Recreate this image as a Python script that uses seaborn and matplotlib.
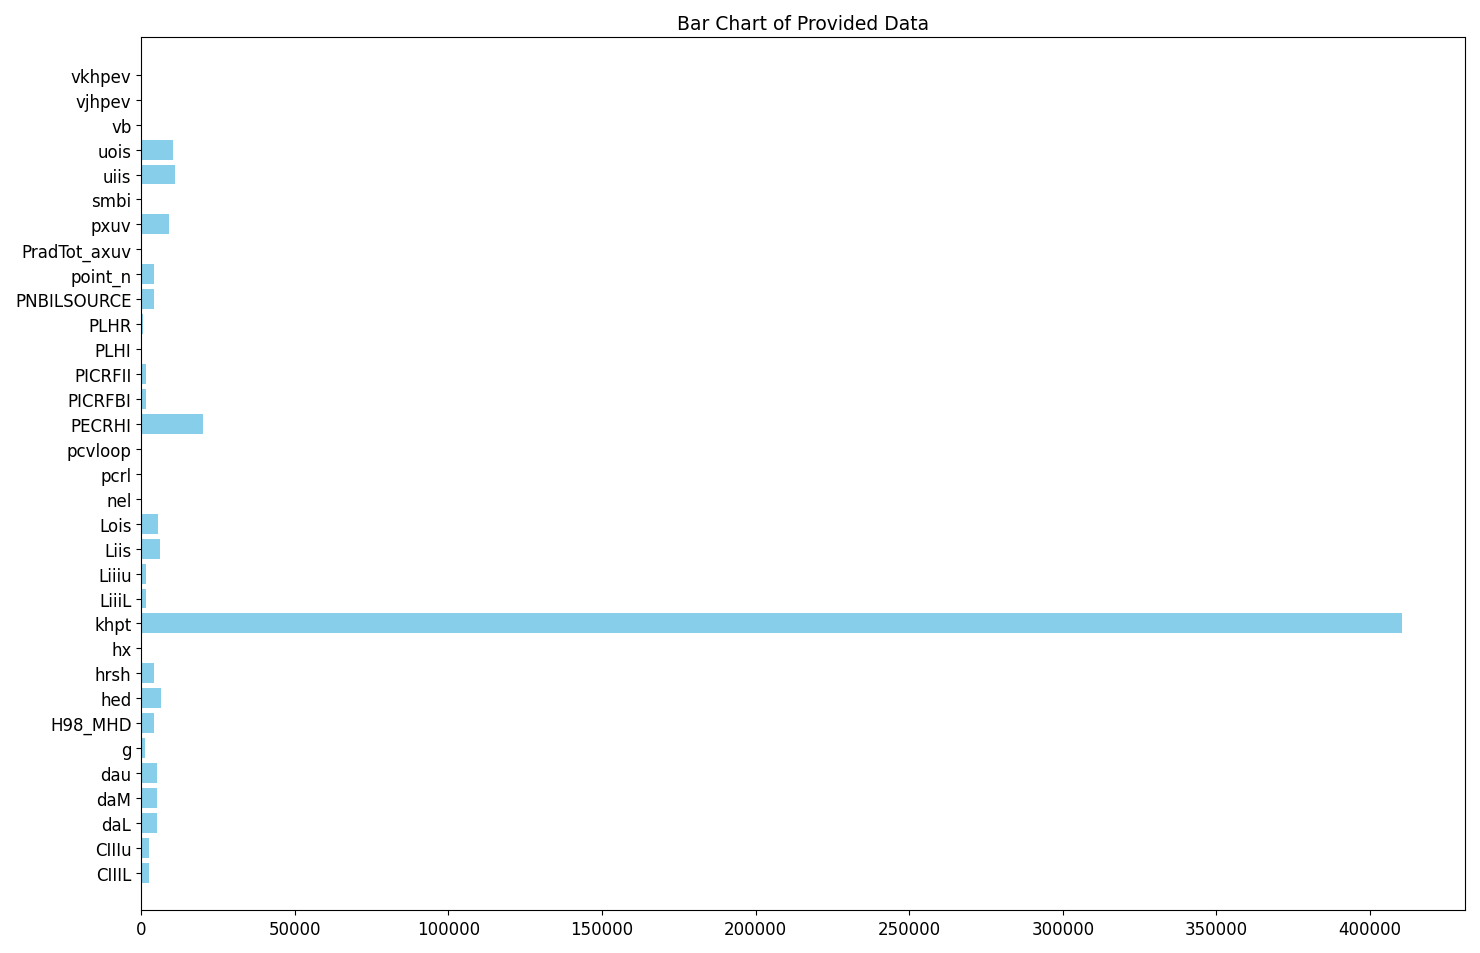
import matplotlib
matplotlib.use("Agg")
import matplotlib.pyplot as plt
import seaborn as sns
import pandas as pd

# labels from bottom to top as in the reference
labels = ["CIIIL", "CIIIu", "daL", "daM", "dau", "g", "H98_MHD", "hed", "hrsh", "hx",
          "khpt", "LiiiL", "Liiiu", "Liis", "Lois", "nel", "pcrl", "pcvloop", "PECRHI",
          "PICRFBI", "PICRFII", "PLHI", "PLHR", "PNBILSOURCE", "point_n", "PradTot_axuv",
          "pxuv", "smbi", "uiis", "uois", "vb", "vjhpev", "vkhpev"]
values = [2400, 2400, 5000, 5000, 5000, 1100, 4000, 6600, 4300, 400,
          410400, 1400, 1400, 5950, 5600, 50, 50, 50, 20250,
          1700, 1700, 330, 430, 4000, 4300, 50,
          9200, 50, 11150, 10500, 50, 50, 50]

df = pd.DataFrame({"label": labels[::-1], "value": values[::-1]})

fig, ax = plt.subplots(figsize=(14.8, 9.54), dpi=100)
sns.barplot(data=df, x="value", y="label", orient="h", color="skyblue",
            saturation=1, width=0.8, ax=ax)
ax.set_title("Bar Chart of Provided Data", fontsize=13.5)
ax.set_xlabel("")
ax.set_ylabel("")
ax.tick_params(labelsize=12)
ax.set_ylim(len(labels) + 0.5, -1.5)
fig.tight_layout()
fig.savefig("out.png")
